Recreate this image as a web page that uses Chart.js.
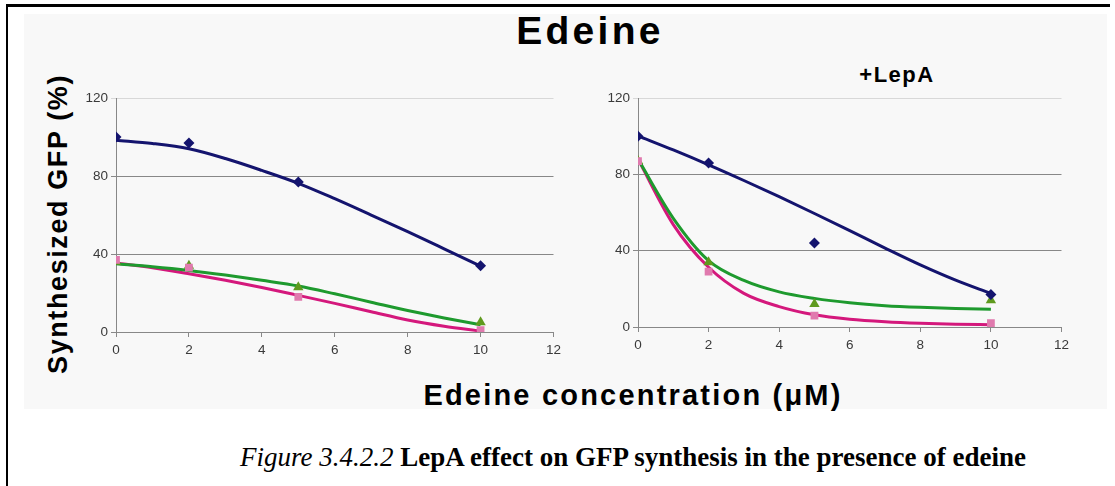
<!DOCTYPE html>
<html lang="en">
  <head>
    <meta charset="UTF-8" />
    <title>Edeine</title>
    <script src="https://cdn.jsdelivr.net/npm/chart.js"></script>
    <style>
      body { margin: 0; width: 1115px; height: 486px; background: #fff; position: relative; overflow: hidden; font-family: "Liberation Sans", Arial, sans-serif; }
      .frame { position: absolute; left: 6px; top: 4px; width: 1102px; height: 490px; border-left: 2px solid #000; border-top: 3px solid #000; }
      .panel { position: absolute; left: 24px; top: 14px; width: 1083px; height: 395px; background: #f8f8f8; }
      .txt { position: absolute; white-space: nowrap; font-weight: bold; color: #000; }
      canvas { position: absolute; }
    </style>
  </head>
  <body>
    <div class="frame"></div>
    <div class="panel"></div>
    <div class="txt" style="left:590px;top:31px;transform:translate(-50%,-50%);font-size:39px;letter-spacing:3.3px;">Edeine</div>
    <div class="txt" style="left:897px;top:75px;transform:translate(-50%,-50%);font-size:22px;letter-spacing:1.5px;">+LepA</div>
    <div class="txt" style="left:58px;top:224px;transform:translate(-50%,-50%) rotate(-90deg);font-size:27px;letter-spacing:1.6px;">Synthesized GFP (%)</div>
    <div class="txt" style="left:633px;top:395px;transform:translate(-50%,-50%);font-size:29px;letter-spacing:2.2px;">Edeine concentration (μM)</div>
    <div class="txt" style="left:633px;top:457px;transform:translate(-50%,-50%);font-family:'Liberation Serif','Times New Roman',serif;font-size:27px;"><i style="font-weight:normal">Figure 3.4.2.2</i> LepA effect on GFP synthesis in the presence of edeine</div>

    <canvas id="left" width="480" height="272" style="left:86px;top:87px;"></canvas>
    <canvas id="right" width="466" height="267" style="left:608px;top:87px;"></canvas>

    <script>
      // measured concentrations (µM)
      const conc = [0, 2, 5, 10];

      // without LepA
      const leftBlue = [100, 97, 77, 34];
      const leftPink = [37, 33, 18, 1];
      const leftGreen = [36, 34, 23, 5];

      // with LepA
      const rightBlue = [100, 86, 44, 17];
      const rightPink = [87, 29, 6, 2];
      const rightGreen = [87, 34, 12, 14];

      // trend lines
      const trendX = [0, 1, 2, 3, 4, 5, 6, 7, 8, 9, 10];
      const leftBlueTrend = [98.4, 96.7, 94, 89, 82.9, 76.3, 68.4, 60, 51.5, 42.7, 33.8];
      const leftPinkTrend = [35.4, 33, 29.9, 26.5, 22.8, 18.8, 14.7, 10.4, 6.2, 3, 0.5];
      const leftGreenTrend = [35, 33.5, 31.6, 29.2, 26.5, 23.6, 19.6, 15.3, 11, 7.2, 3.7];
      const rightBlueTrend = [100.2, 92.8, 85, 76.8, 68.3, 59.5, 50.5, 41.4, 32.6, 24.6, 17.6];
      const rightPinkTrend = [88, 53.7, 31.3, 17.6, 10.7, 6.4, 4.1, 2.8, 2, 1.5, 1.2];
      const rightGreenTrend = [88, 57, 34.8, 24.4, 18.4, 15, 12.7, 11.2, 10.3, 9.7, 9.3];

      const xTicks = [0, 2, 4, 6, 8, 10, 12];
      const yTicks = [0, 40, 80, 120];

      const navy = "#14146e";
      const pinkLine = "#d4187c";
      const pinkMark = "#e07aae";
      const greenLine = "#1e9a2e";
      const greenMark = "#5f9a1e";

      function pts(xs, ys) {
        return xs.map((x, i) => ({ x: x, y: ys[i] }));
      }

      function marks(ys, style, color, r) {
        return {
          data: pts(conc, ys),
          showLine: false,
          pointStyle: style,
          pointRadius: r,
          pointBackgroundColor: color,
          pointBorderColor: color,
          pointBorderWidth: 0,
        };
      }

      function trend(ys, color) {
        return {
          data: pts(trendX, ys),
          showLine: true,
          borderColor: color,
          borderWidth: 3,
          pointRadius: 0,
          cubicInterpolationMode: "monotone",
          fill: false,
        };
      }

      function makeChart(id, blue, pink, green, blueT, pinkT, greenT) {
        new Chart(document.getElementById(id), {
          type: "scatter",
          data: {
            datasets: [
              marks(blue, "rectRot", navy, 5.5),
              marks(pink, "rect", pinkMark, 5.5),
              marks(green, "triangle", greenMark, 6),
              trend(blueT, navy),
              trend(greenT, greenLine),
              trend(pinkT, pinkLine),
            ],
          },
          options: {
            responsive: false,
            animation: false,
            layout: { padding: { top: 8, right: 10, left: 0, bottom: 0 } },
            plugins: { legend: { display: false }, tooltip: { enabled: false } },
            scales: {
              x: {
                type: "linear",
                min: 0,
                max: 12,
                afterBuildTicks: (s) => { s.ticks = xTicks.map((v) => ({ value: v })); },
                afterFit: (s) => { s.height = 27; },
                ticks: { color: "#3a3a3a", font: { family: "Liberation Sans", size: 13.5 }, padding: 5, maxRotation: 0 },
                grid: { drawOnChartArea: false, drawTicks: true, tickLength: 5, color: "#888" },
                border: { color: "#888", width: 1 },
              },
              y: {
                min: 0,
                max: 120,
                afterBuildTicks: (s) => { s.ticks = yTicks.map((v) => ({ value: v })); },
                afterFit: (s) => { s.width = 30; },
                ticks: { color: "#3a3a3a", font: { family: "Liberation Sans", size: 13.5 }, padding: 3 },
                grid: {
                  color: (c) => (c.tick && c.tick.value === 120 ? "#d8d8d8" : "#888"),
                  lineWidth: 1,
                  tickLength: 5,
                },
                border: { color: "#888", width: 1 },
              },
            },
          },
        });
      }

      makeChart("left", leftBlue, leftPink, leftGreen, leftBlueTrend, leftPinkTrend, leftGreenTrend);
      makeChart("right", rightBlue, rightPink, rightGreen, rightBlueTrend, rightPinkTrend, rightGreenTrend);
    </script>
  </body>
</html>
